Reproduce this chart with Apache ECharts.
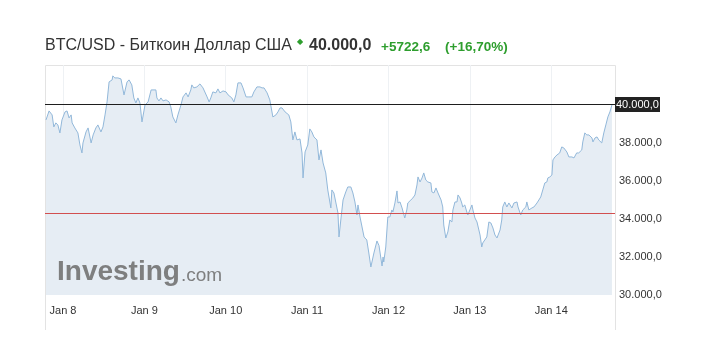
<!DOCTYPE html>
<html><head><meta charset="utf-8">
<script src="https://cdn.jsdelivr.net/npm/echarts@6/dist/echarts.min.js"></script>
<style>html,body{margin:0;padding:0;background:#fff}#c{width:726px;height:364px}</style>
</head><body><div id="c"></div>
<script>
// hours since Jan 8 00:00
const hours = [-5.0,-4.1,-3.2,-2.7,-2.1,-1.5,-0.9,-0.3,0.6,1.2,1.8,2.4,2.7,3.5,4.4,5.0,5.6,5.9,6.8,7.4,8.3,8.9,9.7,10.3,11.2,11.8,12.4,13.0,13.6,14.5,14.7,15.3,16.2,17.1,17.4,18.0,18.9,19.5,20.3,20.9,21.5,22.1,22.7,23.3,24.2,25.1,26.0,26.5,27.4,27.7,28.3,28.9,29.5,30.4,31.3,31.8,32.4,33.3,33.9,34.8,35.4,36.3,36.9,37.7,38.0,38.6,39.5,40.4,41.3,42.5,43.1,43.6,44.2,45.1,45.7,46.3,47.2,48.1,48.7,49.8,50.4,51.0,51.6,52.5,53.1,54.0,54.6,55.7,56.3,57.2,58.1,58.7,59.3,60.2,61.0,61.9,62.8,63.4,64.0,64.6,65.5,66.0,66.6,67.2,67.8,68.4,69.0,69.9,70.5,70.8,71.4,72.2,72.8,73.4,74.0,74.9,75.5,76.1,76.7,77.5,78.1,78.4,79.0,79.3,79.9,80.5,81.1,81.4,82.0,82.6,83.4,84.0,84.9,85.5,86.1,86.7,87.0,87.6,88.2,88.8,89.6,90.2,90.8,91.1,91.7,92.6,93.2,94.1,94.4,94.6,95.2,95.8,96.4,97.0,97.3,97.9,98.5,98.8,99.4,100.0,100.3,100.8,101.4,101.7,102.6,103.2,103.8,104.4,104.7,105.3,105.9,106.4,107.0,107.6,108.5,108.8,109.4,110.0,110.6,111.5,112.0,112.3,112.9,113.5,114.1,114.7,115.0,115.6,116.2,116.5,117.1,117.6,117.9,118.5,119.1,119.4,120.0,120.6,120.9,121.5,122.1,122.4,123.0,123.5,123.8,124.4,125.0,125.6,126.2,126.8,127.4,128.0,128.9,129.4,129.7,130.3,130.9,131.5,132.4,133.0,133.9,134.2,135.0,135.6,136.5,136.8,137.4,138.3,138.9,139.8,140.3,140.9,141.5,142.1,142.7,143.0,143.6,144.2,144.5,145.1,145.7,146.5,147.1,147.7,148.6,149.2,150.1,150.7,151.5,152.1,153.0,153.3,153.9,154.5,155.1,156.0,156.3,156.9,157.5,158.0,158.9,159.5,160.1,160.7,161.3,161.9];
const prices = [39210,39684,39474,38842,39053,38947,38526,39211,39632,39684,39316,39474,39053,38789,38526,37895,37474,38000,38579,38789,38000,38421,38789,38947,38579,38842,39474,40158,41211,41316,41526,41421,41421,41368,41421,40526,41211,41316,41053,40368,40105,40368,40105,39105,40000,40158,40789,40684,40789,40368,40211,40368,40211,40263,40158,39895,39368,39053,39474,40000,40421,40632,40421,40789,41053,40895,40947,41105,40895,40421,40158,40368,40684,40632,40842,40632,40737,40684,40526,40368,40158,40526,41158,41158,40895,40421,40421,40421,40684,40947,40947,40895,40895,40632,40263,39368,39474,39632,39842,39842,39632,39737,39474,39105,38158,38579,38158,38211,37474,36158,37526,37895,38737,38579,38316,38158,37105,37632,36947,36421,35526,35421,34579,35526,35368,34842,34316,33053,34053,35000,35421,35684,35684,35368,34895,34211,34737,34105,33579,33053,32895,32211,31474,31421,32211,32842,32600,31526,32000,31737,32526,34105,34105,34474,34368,34842,35474,34842,34895,34579,34474,34053,34474,34842,35000,35105,35263,35789,36211,35947,36158,36421,36053,35947,35895,35421,35368,35632,35368,35000,34632,33684,33000,33316,33947,33842,34474,34895,34895,35263,35105,34842,34632,34737,34368,34211,34474,34737,34474,34053,33842,33789,33158,32526,32737,32895,33053,33842,33789,33526,33158,33000,33421,33947,34632,34895,34632,34842,34579,34842,34895,34632,34211,34474,34632,34895,34474,34579,34632,34842,34842,35158,35526,35895,35947,36158,36211,36316,37105,37263,37368,37474,37789,37737,37526,37263,37263,37211,37474,37474,37632,38053,38526,38421,38421,38263,38053,38263,38316,38158,38000,38526,38947,39368,39632,40000];
const dayTicks = [0,24,48,72,96,120,144];
const dayLabels = ['Jan 8','Jan 9','Jan 10','Jan 11','Jan 12','Jan 13','Jan 14'];
const yTicks = [30000,32000,34000,36000,38000,40000];
const lastPrice = 40000;
const prevClose = 34277.4;
const changeText = '+5722,6';
const changePctText = '(+16,70%)';
const titleText = 'BTC/USD - Биткоин Доллар США';
const xMin = -5.3, xMax = 162.8;

function fmt(v, d){
  const s = v.toFixed(d); const parts = s.split('.');
  return parts[0].replace(/\B(?=(\d{3})+(?!\d))/g,'.') + (parts[1] ? ','+parts[1] : '');
}

const chart = echarts.init(document.getElementById('c'), null, {renderer:'canvas'});
const FONT = '"Liberation Sans", Arial, sans-serif';
chart.setOption({
  animation: false,
  backgroundColor: '#fff',
  textStyle: {fontFamily: FONT},
  grid: {left: 45, right: 111, top: 65, bottom: 69, containLabel: false},
  xAxis: {
    type: 'value', min: xMin, max: xMax,
    axisLine: {show: false},
    axisTick: {show: false, customValues: dayTicks},
    axisLabel: {customValues: dayTicks, formatter: v => dayLabels[dayTicks.indexOf(v)] || '', color: '#333', fontSize: 11, margin: 10, fontFamily: FONT},
    splitLine: {show: true, lineStyle: {color: '#eef1f4', width: 1}}
  },
  yAxis: {
    type: 'value', position: 'right', min: 30000, max: 42100, interval: 2000,
    axisLine: {show: false},
    axisTick: {show: false},
    splitLine: {show: false},
    axisLabel: {color: '#333', fontSize: 11, margin: 4, fontFamily: FONT,
      formatter: v => (yTicks.indexOf(v) >= 0 && v !== lastPrice) ? fmt(v, 1) : ''}
  },
  graphic: [
    {id: 'box', type: 'polyline', silent: true, z: -1, shape: {points: [[45.5,330],[45.5,65.5],[615.5,65.5],[615.5,330]]}, style: {stroke: '#e3e3e3', fill: null, lineWidth: 1}},
    {id: 't1', type: 'text', left: 45, top: 38, style: {text: titleText, font: '16px ' + FONT, fill: '#333'}},
    {id: 't2', type: 'text', left: 297, top: 38, style: {text: '◆', font: '8px ' + FONT, fill: '#2e9e2e'}},
    {id: 't3', type: 'text', left: 309, top: 38, style: {text: fmt(lastPrice, 1), font: 'bold 16px ' + FONT, fill: '#333'}},
    {id: 't4', type: 'text', left: 381, top: 40, style: {text: changeText, font: 'bold 13.5px ' + FONT, fill: '#2e9e2e'}},
    {id: 't5', type: 'text', left: 445, top: 40, style: {text: changePctText, font: 'bold 13.5px ' + FONT, fill: '#2e9e2e'}},
    {id: 'l1', type: 'text', left: 57, top: 258, z: 10, style: {text: 'Investing', font: 'bold 28px ' + FONT, fill: '#727272', opacity: 0.9}},
    {id: 'l2', type: 'text', left: 181, top: 266, z: 10, style: {text: '.com', font: '19px ' + FONT, fill: '#727272', opacity: 0.9}}
  ],
  series: [{
    type: 'line',
    data: hours.map((h, i) => [h, prices[i]]),
    showSymbol: false,
    lineStyle: {color: '#92b8da', width: 1},
    areaStyle: {color: '#e6edf4', opacity: 1, origin: 'start'}
  }]
});

// reference lines placed through the chart's own scales, snapped to crisp pixels
const x0 = chart.convertToPixel({xAxisIndex: 0}, xMin);
const x1 = chart.convertToPixel({xAxisIndex: 0}, xMax);
const yLast = Math.round(chart.convertToPixel({yAxisIndex: 0}, lastPrice) - 0.5) + 0.5;
const yPrev = Math.round(chart.convertToPixel({yAxisIndex: 0}, prevClose) - 0.5) + 0.5;
chart.setOption({
  graphic: [
    {id: 'prevLine', type: 'line', silent: true, z: 20, shape: {x1: x0, y1: yPrev, x2: x1, y2: yPrev}, style: {stroke: '#d24f4f', lineWidth: 1}},
    {id: 'lastLine', type: 'line', silent: true, z: 21, shape: {x1: x0, y1: yLast, x2: x1, y2: yLast}, style: {stroke: '#1e1e1e', lineWidth: 1}},
    {id: 'lastTag', type: 'rect', silent: true, z: 22, shape: {x: x1, y: yLast - 7.5, width: 45, height: 15}, style: {fill: '#222'}},
    {id: 'lastTxt', type: 'text', silent: true, z: 23, x: x1 + 1, y: yLast + 0.5, style: {text: fmt(lastPrice, 1), font: '11px ' + FONT, fill: '#fff', verticalAlign: 'middle', align: 'left'}}
  ]
});
</script></body></html>
